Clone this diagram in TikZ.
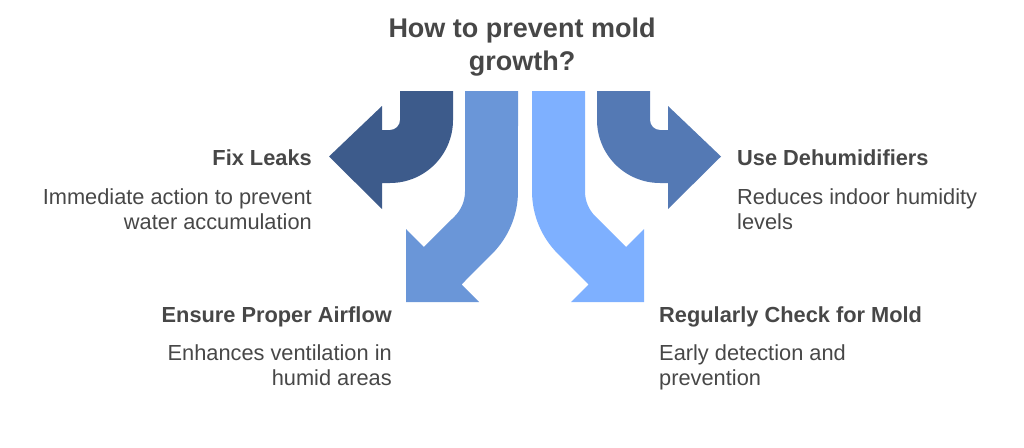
\documentclass[tikz,border=0pt]{standalone}
\usepackage{fontspec}
\setmainfont{Liberation Sans}
\usepackage{xcolor}
\definecolor{moldink}{HTML}{474747}
\definecolor{leakblue}{HTML}{3D5B8B}
\definecolor{dryblue}{HTML}{5479B4}
\definecolor{airblue}{HTML}{6A96D8}
\definecolor{checkblue}{HTML}{7EB0FF}

\begin{document}
\begin{tikzpicture}[
  x=1pt,
  y=-1pt,
  every node/.style={inner sep=0pt, text=moldink},
  titletext/.style={font=\fontsize{27}{33}\selectfont\bfseries, align=center},
  headtext/.style={font=\fontsize{21.8}{26}\selectfont\bfseries},
  bodytext/.style={font=\fontsize{21.8}{25.5}\selectfont}
]
  \useasboundingbox (0,0) rectangle (1024,447);

  % turning arrows, mirrored about x=525
  \fill[leakblue] (400,91) -- (400,120) arc[start angle=0, end angle=90, radius=10]
    -- (382,130) -- (382,106) -- (329,156.5) -- (382,209) -- (382,183)
    -- (390,183) arc[start angle=90, end angle=0, radius=63] -- (453,91) -- cycle;
  \fill[airblue] (465,91) -- (465,191.5) arc[start angle=0, end angle=45, radius=35]
    -- (423.9,247) -- (406,229) -- (406,302) -- (479,302) -- (461.5,284.5)
    -- (492.2,253.7) arc[start angle=45, end angle=0, radius=88] -- (518,91) -- cycle;
  \fill[checkblue] (585,91) -- (585,191.5) arc[start angle=180, end angle=135, radius=35]
    -- (626.1,247) -- (644,229) -- (644,302) -- (571,302) -- (588.5,284.5)
    -- (557.8,253.7) arc[start angle=135, end angle=180, radius=88] -- (532,91) -- cycle;
  \fill[dryblue] (650,91) -- (650,120) arc[start angle=180, end angle=90, radius=10]
    -- (668,130) -- (668,106) -- (721,156.5) -- (668,209) -- (668,183)
    -- (660,183) arc[start angle=90, end angle=180, radius=63] -- (597,91) -- cycle;

  \node[titletext, anchor=north] (title) at (522,18) {How to prevent mold\\growth?};

  \node[headtext, anchor=base east] (leaksHead) at (312,165) {Fix Leaks};
  \node[bodytext, align=right, anchor=north east] (leaksText) at (312,188)
    {Immediate action to prevent\\water accumulation};

  \node[headtext, anchor=base east] (airHead) at (392,322) {Ensure Proper Airflow};
  \node[bodytext, align=right, anchor=north east] (airText) at (392,344)
    {Enhances ventilation in\\humid areas};

  \node[headtext, anchor=base west] (dryHead) at (737,165) {Use Dehumidifiers};
  \node[bodytext, align=left, anchor=north west] (dryText) at (737,188)
    {Reduces indoor humidity\\levels};

  \node[headtext, anchor=base west] (checkHead) at (659,322) {Regularly Check for Mold};
  \node[bodytext, align=left, anchor=north west] (checkText) at (659,344)
    {Early detection and\\prevention};
\end{tikzpicture}
\end{document}
